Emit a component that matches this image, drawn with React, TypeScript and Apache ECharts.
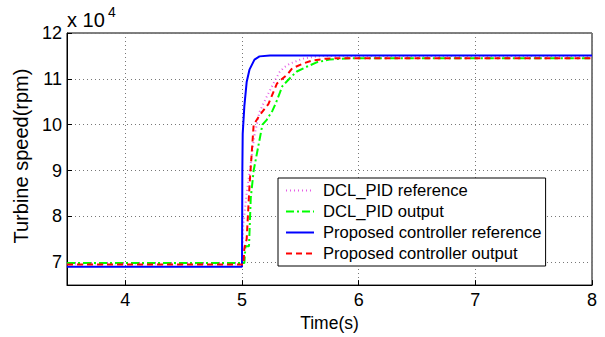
import React, { useEffect, useRef } from "react";
import * as echarts from "echarts";

// Time (s) and turbine speed (rpm) for each series
const dclRefT = [3.5, 5.0, 5.01, 5.04, 5.107, 5.15, 5.21, 5.28, 5.32, 5.36, 5.41, 5.52, 5.64, 5.72, 8.0];
const dclRefV = [69700, 69700, 78000, 85000, 97700, 102800, 106000, 109500, 111400, 112500, 113300, 114400, 114900, 115000, 115000];

const dclOutT = [3.5, 5.02, 5.03, 5.06, 5.075, 5.1, 5.175, 5.21, 5.26, 5.295, 5.346, 5.42, 5.47, 5.56, 5.64, 5.75, 5.92, 8.0];
const dclOutV = [69800, 69800, 73500, 73500, 84000, 90000, 100000, 101000, 103000, 105000, 108400, 110400, 111600, 112700, 113600, 114200, 114500, 114500];

const propRefT = [3.5, 5.0, 5.003, 5.006, 5.02, 5.04, 5.064, 5.107, 5.15, 5.24, 8.0];
const propRefV = [69000, 69000, 90000, 98000, 104000, 109300, 112000, 114200, 114900, 115100, 115100];

const propOutT = [3.5, 5.013, 5.02, 5.04, 5.065, 5.1, 5.15, 5.226, 5.3, 5.39, 5.43, 5.52, 5.6, 5.72, 5.81, 8.0];
const propOutV = [69500, 69500, 73000, 75000, 87000, 100000, 102000, 104500, 109000, 111000, 112300, 113300, 114000, 114400, 114500, 114500];

const xTicks = [4, 5, 6, 7, 8];
const yTicks = [70000, 80000, 90000, 100000, 110000, 120000];

const names = [
  "DCL_PID reference",
  "DCL_PID output",
  "Proposed controller reference",
  "Proposed controller output",
];

const zip = (t: number[], v: number[]) => t.map((x, i) => [x, v[i]]);

export default function App() {
  const ref = useRef<HTMLDivElement>(null);
  useEffect(() => {
    if (!ref.current) return;
    const chart = echarts.init(ref.current, undefined, { renderer: "svg" });
    const font = "Liberation Sans, Arial, Helvetica, sans-serif";
    const gridLine = { show: true, lineStyle: { type: [1, 3], color: "#777", width: 1 } };
    chart.setOption({
      animation: false,
      backgroundColor: "#ffffff",
      textStyle: { fontFamily: font },
      grid: {
        left: 67,
        right: 13,
        top: 33,
        bottom: 48,
        show: true,
        borderColor: "#000",
        borderWidth: 1,
        backgroundColor: "#fff",
      },
      legend: {
        orient: "vertical",
        left: 278,
        top: 178,
        data: names,
        backgroundColor: "#fff",
        borderColor: "#000",
        borderWidth: 1,
        padding: [4, 4, 4, 7],
        itemWidth: 28,
        itemHeight: 14,
        itemGap: 4,
        itemStyle: { opacity: 0 },
        textStyle: { fontSize: 16.6, color: "#000", fontFamily: font, padding: [0, 0, 0, 4] },
      },
      xAxis: {
        type: "value",
        min: 3.5,
        max: 8,
        name: "Time(s)",
        nameLocation: "middle",
        nameGap: 24,
        nameTextStyle: { fontSize: 17.5, color: "#000", fontFamily: font },
        axisLine: { show: true, lineStyle: { color: "#000" } },
        axisTick: { show: true, inside: true, length: 5, customValues: xTicks, lineStyle: { color: "#000" } },
        axisLabel: { customValues: xTicks, fontSize: 18, color: "#000", margin: 6, fontFamily: font },
        splitLine: gridLine,
      },
      yAxis: {
        type: "value",
        min: 65000,
        max: 120000,
        name: "Turbine speed(rpm)",
        nameLocation: "middle",
        nameGap: 33,
        nameTextStyle: { fontSize: 20, color: "#000", fontFamily: font, padding: [0, 0, 0, 6] },
        axisLine: { show: true, lineStyle: { color: "#000" } },
        axisTick: { show: true, inside: true, length: 5, customValues: yTicks, lineStyle: { color: "#000" } },
        axisLabel: {
          customValues: yTicks,
          fontSize: 18,
          color: "#000",
          margin: 5,
          fontFamily: font,
          formatter: (v: number) => String(Math.round(v / 10000)),
        },
        splitLine: gridLine,
      },
      graphic: [
        {
          type: "text",
          left: 67,
          top: 10,
          style: {
            text: "x 10",
            fontSize: 20,
            fill: "#000",
            fontFamily: font,
          },
        },
        {
          type: "text",
          left: 108,
          top: 5,
          style: {
            text: "4",
            fontSize: 14,
            fill: "#000",
            fontFamily: font,
          },
        },
      ],
      series: [
        {
          name: names[0],
          type: "line",
          data: zip(dclRefT, dclRefV),
          symbol: "none",
          lineStyle: { color: "#e65ce6", width: 2, type: [1, 3] },
          itemStyle: { color: "#e65ce6" },
        },
        {
          name: names[1],
          type: "line",
          data: zip(dclOutT, dclOutV),
          symbol: "none",
          lineStyle: { color: "#00ff00", width: 2, type: [8, 3, 2, 3] },
          itemStyle: { color: "#00ff00" },
        },
        {
          name: names[2],
          type: "line",
          data: zip(propRefT, propRefV),
          symbol: "none",
          lineStyle: { color: "#0000ff", width: 2, type: "solid" },
          itemStyle: { color: "#0000ff" },
        },
        {
          name: names[3],
          type: "line",
          data: zip(propOutT, propOutV),
          symbol: "none",
          lineStyle: { color: "#ff0000", width: 2, type: [6, 4] },
          itemStyle: { color: "#ff0000" },
          z: 3,
        },
      ],
    });
    return () => chart.dispose();
  }, []);
  return (
    <div
      ref={ref}
      style={{ position: "fixed", left: 0, top: 0, width: 605, height: 337, background: "#fff" }}
    />
  );
}
